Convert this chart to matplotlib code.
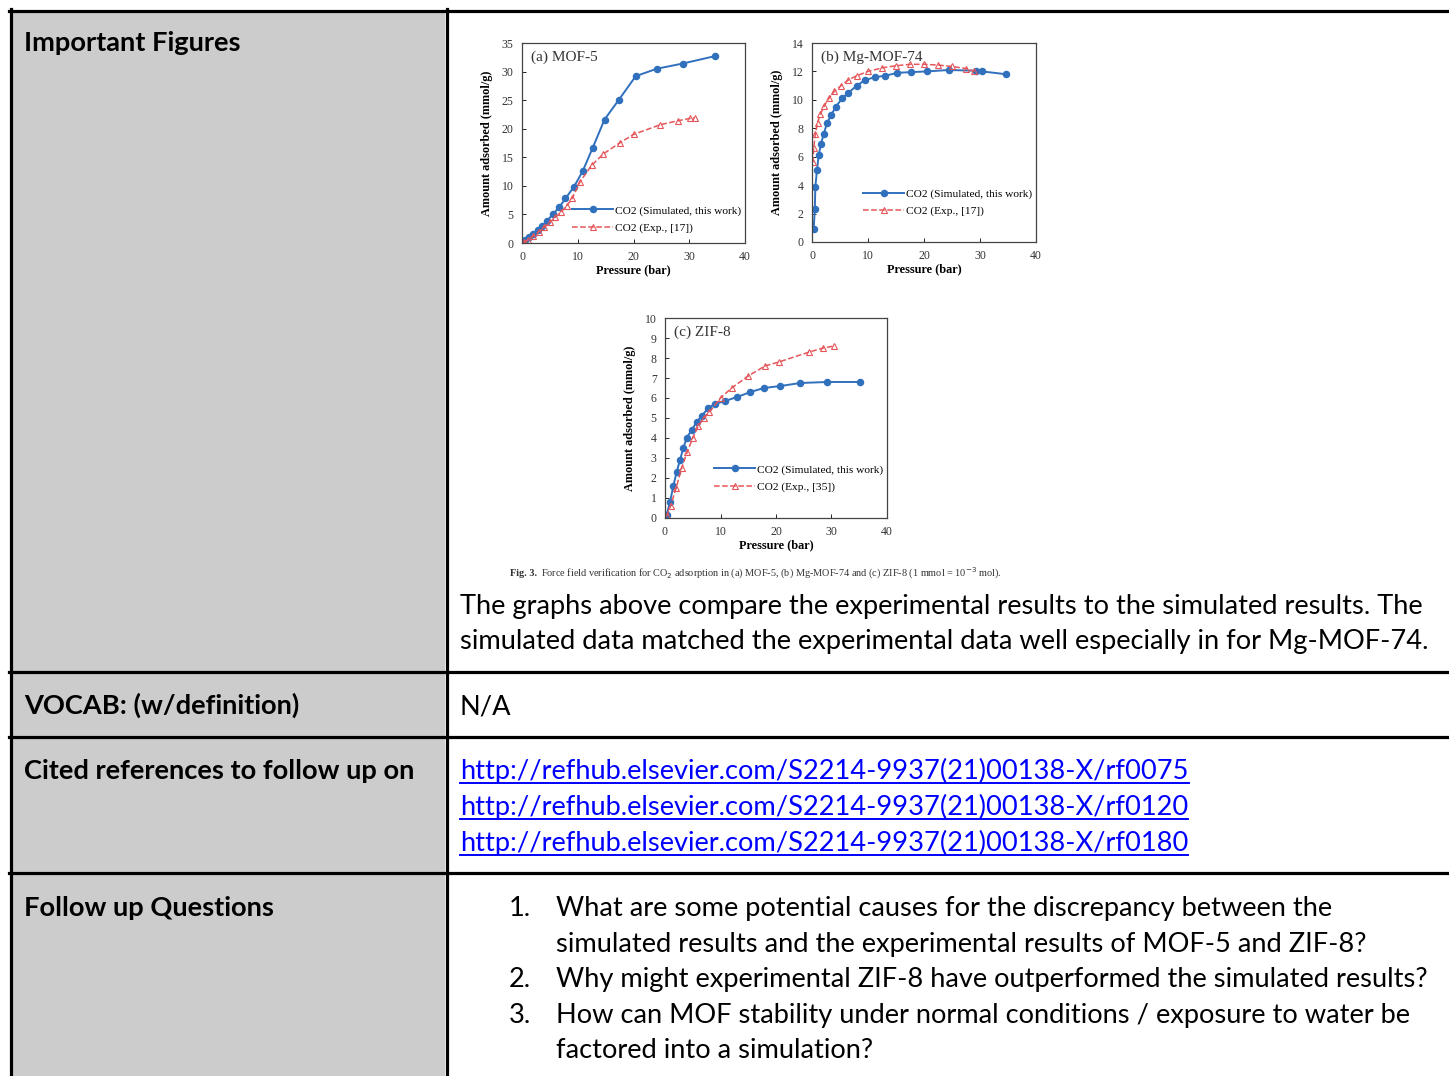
import matplotlib
matplotlib.use('Agg')
import matplotlib.pyplot as plt
from matplotlib.patches import Rectangle

W, H = 1449, 1076

# ---- data ----
mof5_sim_p = [0.2, 0.6, 1.2, 2.0, 2.8, 3.6, 4.5, 5.6, 6.7, 7.8, 9.3, 10.9, 12.7, 14.8, 17.4, 20.4, 24.2, 28.8, 34.6]
mof5_sim_q = [0.2, 0.5, 1.0, 1.6, 2.3, 3.0, 3.9, 5.1, 6.3, 7.8, 9.8, 12.6, 16.7, 21.6, 25.1, 29.2, 30.5, 31.4, 32.7]
mof5_exp_p = [0.3, 1.0, 2.0, 3.0, 4.0, 5.0, 6.0, 7.0, 8.0, 9.0, 10.4, 12.5, 14.6, 17.5, 20.0, 24.8, 28.0, 30.1, 31.0]
mof5_exp_q = [0.1, 0.5, 1.2, 2.0, 2.8, 3.6, 4.5, 5.4, 6.5, 7.8, 10.7, 13.6, 15.6, 17.5, 19.0, 20.7, 21.4, 21.8, 21.9]

mg_sim_p = [0.3, 0.5, 0.6, 0.9, 1.2, 1.6, 2.1, 2.7, 3.4, 4.2, 5.4, 6.5, 8.0, 9.5, 11.3, 13.1, 15.2, 17.6, 20.5, 24.4, 29.2, 30.4, 34.7]
mg_sim_q = [0.9, 2.3, 3.9, 5.1, 6.1, 6.9, 7.6, 8.4, 8.9, 9.5, 10.1, 10.5, 11.0, 11.4, 11.6, 11.7, 11.9, 11.95, 12.0, 12.1, 12.05, 12.0, 11.8]
mg_exp_p = [0.15, 0.3, 0.6, 1.0, 1.5, 2.2, 3.0, 4.0, 5.2, 6.5, 8.0, 10.0, 12.5, 15.0, 17.5, 20.0, 22.5, 25.0, 27.5, 29.0]
mg_exp_q = [5.6, 6.6, 7.6, 8.4, 9.0, 9.6, 10.1, 10.6, 11.0, 11.4, 11.7, 12.0, 12.25, 12.4, 12.5, 12.5, 12.45, 12.35, 12.2, 12.0]

zif_sim_p = [0.3, 0.9, 1.5, 2.1, 2.7, 3.3, 3.9, 4.8, 5.7, 6.6, 7.8, 9.0, 10.8, 13.0, 15.4, 17.8, 20.8, 24.4, 29.2, 35.2]
zif_sim_q = [0.17, 0.8, 1.6, 2.3, 2.9, 3.5, 4.0, 4.4, 4.8, 5.1, 5.5, 5.7, 5.85, 6.05, 6.3, 6.5, 6.6, 6.75, 6.8, 6.8]
zif_exp_p = [0.3, 1.0, 2.0, 3.0, 4.0, 5.0, 6.0, 7.0, 8.0, 10.0, 12.0, 15.0, 18.0, 20.5, 26.0, 28.5, 30.5]
zif_exp_q = [0.1, 0.6, 1.5, 2.5, 3.3, 4.0, 4.6, 5.0, 5.3, 6.0, 6.5, 7.1, 7.6, 7.8, 8.3, 8.5, 8.6]

# title, ymax, ystep, exp ref, data..., axes box in px, legend anchor y
panels = [
    ('(a) MOF-5', 35, 5, 17, mof5_sim_p, mof5_sim_q, mof5_exp_p, mof5_exp_q, (522, 43, 745, 243), 0.0),
    ('(b) Mg-MOF-74', 14, 2, 17, mg_sim_p, mg_sim_q, mg_exp_p, mg_exp_q, (812, 43, 1036, 242), 0.08),
    ('(c) ZIF-8', 10, 1, 35, zif_sim_p, zif_sim_q, zif_exp_p, zif_exp_q, (665, 318, 887, 518), 0.08),
]

body_lines = [
    'The graphs above compare the experimental results to the simulated results. The',
    'simulated data matched the experimental data well especially in for Mg-MOF-74.',
]
links = [
    'http://refhub.elsevier.com/S2214-9937(21)00138-X/rf0075',
    'http://refhub.elsevier.com/S2214-9937(21)00138-X/rf0120',
    'http://refhub.elsevier.com/S2214-9937(21)00138-X/rf0180',
]
questions = [
    ('1.', ['What are some potential causes for the discrepancy between the',
            'simulated results and the experimental results of MOF-5 and ZIF-8?']),
    ('2.', ['Why might experimental ZIF-8 have outperformed the simulated results?']),
    ('3.', ['How can MOF stability under normal conditions / exposure to water be',
            'factored into a simulation?']),
]
row_labels = ['Important Figures', 'VOCAB: (w/definition)',
              'Cited references to follow up on', 'Follow up Questions']
caption = ('Force field verification for CO$_2$ adsorption in (a) MOF-5, (b) Mg-MOF-74 '
           'and (c) ZIF-8 (1 mmol = 10$^{-3}$ mol).')

fig = plt.figure(figsize=(W / 100, H / 100), dpi=100)
bg = fig.add_axes([0, 0, 1, 1])
bg.set_xlim(0, W)
bg.set_ylim(H, 0)
bg.axis('off')

# table background and rules
bg.add_patch(Rectangle((12, 12), 433, H, facecolor='#cccccc', edgecolor='none'))
lw = 2.3
bg.plot([9, W], [10.5, 10.5], color='black', lw=lw)
bg.plot([10.5, 10.5], [9, H], color='black', lw=lw)
bg.plot([446.5, 446.5], [9, H], color='black', lw=lw)
for yy in [671.5, 736.5, 873]:
    bg.plot([9, W], [yy, yy], color='black', lw=lw)

font = 'Lato'
fs = 19.6
for lab, yb in zip(row_labels, [51, 714, 779, 916]):
    bg.text(24, yb, lab, fontsize=fs, fontweight='bold', family=font, va='baseline')

for line, yb in zip(body_lines, [614, 649]):
    bg.text(460, yb, line, fontsize=fs, family=font, va='baseline')
bg.text(460, 714, 'N/A', fontsize=fs, family=font, va='baseline')

link_texts = []
for line, yb in zip(links, [779, 815, 851]):
    link_texts.append(bg.text(460, yb, line, fontsize=fs, family=font, va='baseline', color='#0000ff'))

q_base = [916, 952, 987, 1023, 1058]
k = 0
for num, parts in questions:
    bg.text(509, q_base[k], num, fontsize=fs, family=font, va='baseline')
    for part in parts:
        bg.text(556, q_base[k], part, fontsize=fs, family=font, va='baseline')
        k += 1

serif = 'Liberation Serif'
cap_head = bg.text(510, 573, 'Fig. 3.', fontsize=7.4, family=serif, fontweight='bold',
                   va='center', color='#333333')

blue = '#3070bd'
red = '#e5565a'
for title, ymax, ystep, ref, sp, sq, ep, eq, (x0, y0, x1, y1), ly in panels:
    ax = fig.add_axes([x0 / W, 1 - y1 / H, (x1 - x0) / W, (y1 - y0) / H])
    ax.plot(sp, sq, '-o', color=blue, lw=1.4, ms=4.4, label='CO2 (Simulated, this work)')
    ax.plot(ep, eq, '--^', color=red, lw=1.1, ms=4, mfc='none', mew=0.8,
            label='CO2 (Exp., [%d])' % ref)
    ax.set_xlim(0, 40)
    ax.set_ylim(0, ymax)
    ax.set_xticks(range(0, 41, 10))
    ax.set_yticks(range(0, ymax + 1, ystep))
    ax.tick_params(direction='in', labelsize=8.5, length=3, width=0.6, pad=6)
    for lb in ax.get_xticklabels() + ax.get_yticklabels():
        lb.set_family(serif)
        lb.set_color('#333333')
    for s in ax.spines.values():
        s.set_linewidth(0.9)
        s.set_color('#444444')
    ax.set_xlabel('Pressure (bar)', family=serif, fontweight='bold', fontsize=8.8, labelpad=1)
    ax.set_ylabel('Amount adsorbed (mmol/g)', family=serif, fontweight='bold', fontsize=8.8, labelpad=6)
    ax.text(0.04, 0.96, title, transform=ax.transAxes, family=serif, fontsize=11, va='top', color='#333333')
    ax.legend(loc='lower right', bbox_to_anchor=(1.03, ly), frameon=False,
              handlelength=3.6, labelspacing=0.6, handletextpad=0.2,
              prop={'family': serif, 'size': 8.2})

# underline the links, place caption body after the bold head
fig.canvas.draw()
r = fig.canvas.get_renderer()
inv = bg.transData.inverted()
for t, yb in zip(link_texts, [779, 815, 851]):
    bb = t.get_window_extent(r)
    (xa, _), (xb, _) = inv.transform([(bb.x0, bb.y0), (bb.x1, bb.y1)])
    bg.plot([xa, xb], [yb + 3.5, yb + 3.5], color='#0000ff', lw=1.4)
hb = cap_head.get_window_extent(r)
xe = inv.transform([(hb.x1, hb.y0)])[0][0]
bg.text(xe + 4, 573, caption, fontsize=7.4, family=serif, va='center', color='#333333')

fig.savefig('out.png', dpi=100)
